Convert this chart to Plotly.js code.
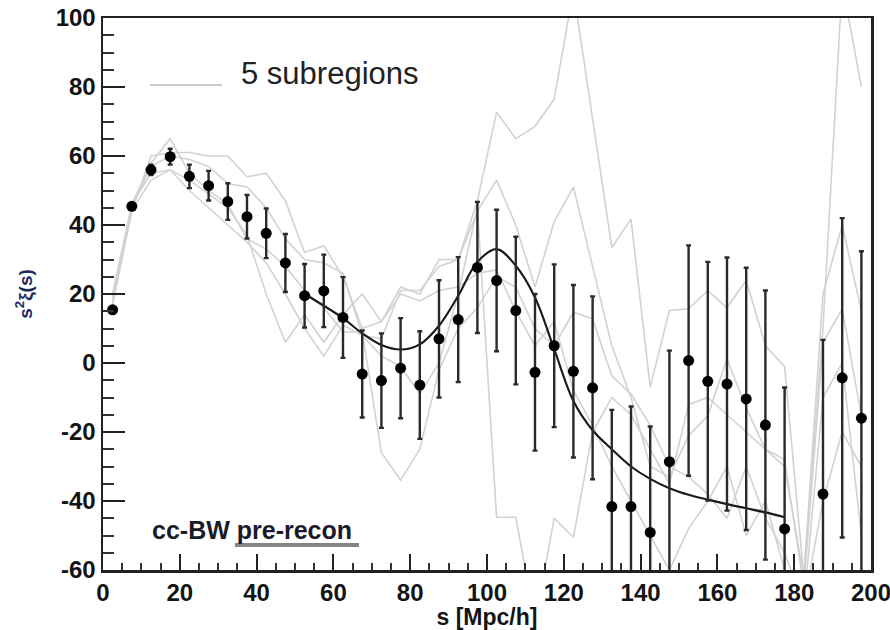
<!DOCTYPE html>
<html>
<head>
<meta charset="utf-8">
<script src="https://cdn.plot.ly/plotly-3.0.1.min.js"></script>
<style>
  html, body { margin: 0; padding: 0; background: #ffffff; }
  #chart { width: 890px; height: 630px; }
</style>
</head>
<body>
<div id="chart"></div>
<script>
// bin centres s [Mpc/h]
const sBins = [2.5, 7.5, 12.5, 17.5, 22.5, 27.5, 32.5, 37.5, 42.5, 47.5,
  52.5, 57.5, 62.5, 67.5, 72.5, 77.5, 82.5, 87.5, 92.5, 97.5,
  102.5, 107.5, 112.5, 117.5, 122.5, 127.5, 132.5, 137.5, 142.5, 147.5,
  152.5, 157.5, 162.5, 167.5, 172.5, 177.5, 182.5, 187.5, 192.5, 197.5];

// full-sample measurement s^2 xi(s) and its error
const xiFull = [15.4, 45.4, 56.0, 59.8, 54.1, 51.4, 46.8, 42.4, 37.6, 29.0,
  19.5, 20.9, 13.2, -3.2, -5.1, -1.5, -6.4, 7.0, 12.6, 27.7,
  23.9, 15.2, -2.7, 5.0, -2.4, -7.2, -41.6, -41.6, -49.1, -28.6,
  0.7, -5.3, -6.1, -10.4, -18.0, -48.1, null, -38.0, -4.3, -16.0];
const xiErr = [0.5, 0.8, 1.5, 2.3, 3.4, 4.3, 5.3, 6.3, 7.2, 8.4,
  9.2, 10.5, 11.7, 12.6, 13.7, 14.5, 15.6, 17.0, 18.1, 19.0,
  20.5, 21.4, 22.7, 23.6, 25.0, 26.5, 28.0, 29.0, 30.7, 32.2,
  33.4, 34.6, 36.7, 38.0, 39.0, 41.0, null, 44.7, 46.3, 48.4];

// best-fit model curve
const sModel = [52.5, 57.5, 62.5, 67.5, 72.5, 77.5, 82.5, 87.5, 92.5, 97.5,
  102.5, 107.5, 112.5, 117.5, 122.5, 127.5, 132.5, 137.5, 142.5, 147.5,
  152.5, 157.5, 162.5, 167.5, 172.5, 177.5];
const xiModel = [20, 16.6, 13, 8.6, 5.2, 3.9, 5.4, 10.8, 19.5, 29.3,
  33, 28.2, 19, 4, -11, -19.5, -25, -30, -33.6, -36.3,
  -38.2, -39.6, -40.9, -42.1, -43.3, -44.7];

// the 5 subregions
const sub1 = [19, 44, 60, 61, 61, 60, 60, 54, 55, 47,
  32, 34, 25, 10, 12, 22, 20, 30, 30, 47,
  72.7, 65, 68.6, 76.5, 108, 71, 33.5, 41.7, -7, 15.2,
  15.7, 21, 16, 24, 5, -1, -62, 10, 110, 80];
const sub2 = [17, 45, 57, 60, 59, 57, 52, 51, 45, 36,
  30, 29, 26, 8, 7, 21, 21, 28, 30, 44,
  53, 40, 22, 41, 51, 28, 5, -10, -30, -33,
  -21, -15.3, 1.2, -13, -25, -30, -62, 20, 40, 15];
const sub3 = [20, 46, 58, 65, 55, 50, 46, 36, 33, 28,
  21, 16, 9, 9, -26, -34, -25, -2, 10, 16,
  25, 22, 10, 5, 14.7, 12.8, -3.7, -9, -18, -30,
  -33, -38, -45, -30, -45, -55, -70, -40, -20, -30];
const sub4 = [18, 46, 55, 56, 50, 45, 40, 35, 29, 20,
  10, 2, 11, 8, 2, -1, -9, 0, 20, 45,
  -44.7, -44.7, -75, -45, -50.5, -20, -10, -15, -25, -35,
  -12, -10, -15, -20, -25, -28, -65, 6, 15.7, -15.3];
const sub5 = [17, 44, 53, 56, 53, 49, 45, 37, 20, 6,
  14, 6, 14, 20, 12, 20, 18, 21, 22, 26,
  27, 15, 5, 12, -8, -18, -30, -40, -50, -60,
  -48, -40, -30, -50, -40, -60, -70, -10, 0, -50];
const subregions = [sub1, sub2, sub3, sub4, sub5];

const tickVals = [-60, -40, -20, 0, 20, 40, 60, 80, 100];
const xTickVals = [0, 20, 40, 60, 80, 100, 120, 140, 160, 180, 200];

const data = [];
subregions.forEach(function (ys) {
  data.push({
    x: sBins, y: ys, type: 'scatter', mode: 'lines',
    line: { color: '#d2d2d2', width: 1.6 },
    hoverinfo: 'skip', showlegend: false
  });
});
data.push({
  x: sModel, y: xiModel, type: 'scatter', mode: 'lines',
  line: { color: '#1a1a1a', width: 2.1, shape: 'spline', smoothing: 1 },
  showlegend: false
});
data.push({
  x: sBins, y: xiFull, type: 'scatter', mode: 'markers',
  marker: { color: '#000000', size: 11 },
  error_y: { type: 'data', array: xiErr, visible: true, color: '#2a2a2a', thickness: 2.4, width: 2.5 },
  showlegend: false
});

const axisFont = { family: 'Liberation Sans, Arial, sans-serif', size: 24, weight: 'bold', color: '#141414' };

const layout = {
  width: 890, height: 630,
  margin: { l: 103, r: 19, t: 18, b: 60, pad: 0 },
  paper_bgcolor: '#ffffff', plot_bgcolor: '#ffffff',
  showlegend: false,
  xaxis: {
    range: [0, 200], tickvals: xTickVals, ticktext: xTickVals.map(String),
    ticks: 'inside', ticklen: 16, tickwidth: 2, tickcolor: '#222',
    minor: { dtick: 5, ticks: 'inside', ticklen: 7, tickwidth: 2, tickcolor: '#333' },
    showline: true, linecolor: '#222', linewidth: 2.5, mirror: true,
    showgrid: false, zeroline: false,
    ticklabeloverflow: 'allow',
    tickfont: axisFont,
    title: { text: 's [Mpc/h]', font: { family: 'Liberation Sans, Arial, sans-serif', size: 23, weight: 'bold', color: '#141414' }, standoff: 2 }
  },
  yaxis: {
    range: [-60, 100], tickvals: tickVals, ticktext: tickVals.map(String),
    ticks: 'inside', ticklen: 22, tickwidth: 2, tickcolor: '#222',
    minor: { dtick: 5, ticks: 'inside', ticklen: 11, tickwidth: 2, tickcolor: '#333' },
    showline: true, linecolor: '#222', linewidth: 2.5, mirror: true,
    showgrid: false, zeroline: false,
    ticklabeloverflow: 'allow',
    tickfont: axisFont,
    title: { text: 's<sup>2</sup>ξ(s)', font: { family: 'Liberation Sans, Arial, sans-serif', size: 19, weight: 'bold', color: '#1c2a5c' }, standoff: 18 }
  },
  shapes: [
    { type: 'line', xref: 'paper', yref: 'paper', x0: 0.0612, x1: 0.155, y0: 0.8786, y1: 0.8786,
      line: { color: '#b8b8b8', width: 1.5 } },
    { type: 'line', xref: 'paper', yref: 'paper', x0: 0.1719, x1: 0.3333, y0: 0.0453, y1: 0.0453,
      line: { color: '#858585', width: 4 } }
  ],
  annotations: [
    { xref: 'paper', yref: 'paper', x: 0.177, y: 0.8986, xanchor: 'left', yanchor: 'middle',
      text: '5 subregions', showarrow: false,
      font: { family: 'Liberation Sans, Arial, sans-serif', size: 31, color: '#222222' } },
    { xref: 'paper', yref: 'paper', x: 0.0612, y: 0.0725, xanchor: 'left', yanchor: 'middle',
      text: 'cc-BW pre-recon', showarrow: false,
      font: { family: 'Liberation Sans, Arial, sans-serif', size: 25, weight: 'bold', color: '#1a1a2a' } }
  ]
};

Plotly.newPlot('chart', data, layout, { staticPlot: true, displayModeBar: false });
</script>
</body>
</html>
